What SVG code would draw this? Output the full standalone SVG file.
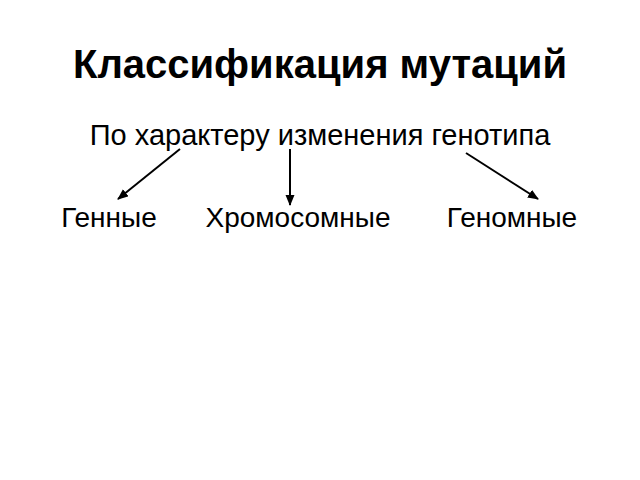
<svg xmlns="http://www.w3.org/2000/svg" width="640" height="480" viewBox="0 0 640 480">
<style>
text{font-family:"Liberation Sans",Arial,sans-serif;fill:#000}
.t{font-size:40px;font-weight:bold}
.s{font-size:29px}
.n{font-size:28px}
.c line{stroke:#000;stroke-width:2}
</style>
<defs>
<marker id="a" markerWidth="12" markerHeight="10" refX="10" refY="4.5" orient="auto" markerUnits="userSpaceOnUse">
<path d="M0,0 L11,4.5 L0,9 z" fill="#000"/>
</marker>
</defs>
<rect width="640" height="480" fill="#fff"/>
<g id="title"><text class="t" x="320" y="78" text-anchor="middle">Классификация мутаций</text></g>
<g id="root"><text class="s" x="320" y="145" text-anchor="middle">По характеру изменения генотипа</text></g>
<g id="gene"><text class="n" x="109" y="227" text-anchor="middle">Генные</text></g>
<g id="chrom"><text class="n" x="298" y="227" text-anchor="middle">Хромосомные</text></g>
<g id="genom"><text class="n" x="512" y="227" text-anchor="middle">Геномные</text></g>
<g class="c" id="connectors">
<line x1="180" y1="149" x2="118" y2="199" marker-end="url(#a)"/>
<line x1="290" y1="149" x2="290" y2="205" marker-end="url(#a)"/>
<line x1="466" y1="153" x2="538" y2="199" marker-end="url(#a)"/>
</g>
</svg>
